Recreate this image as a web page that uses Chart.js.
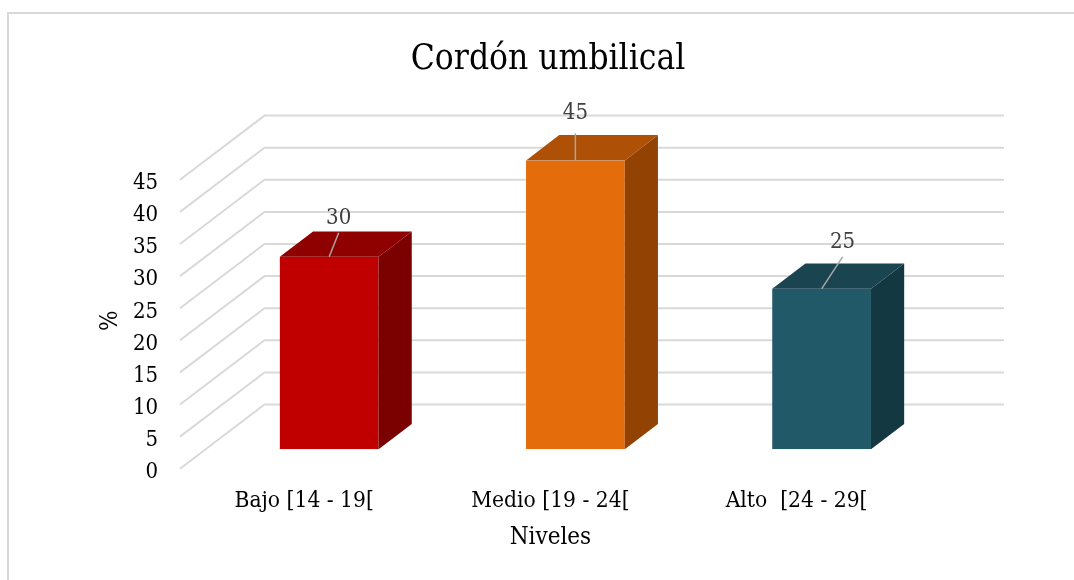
<!DOCTYPE html>
<html>
<head>
<meta charset="utf-8">
<style>
html,body{margin:0;padding:0;background:#fff;overflow:hidden}
#wrap{position:relative;width:1074px;height:580px}
canvas{display:block}
</style>
<script src="https://cdn.jsdelivr.net/npm/chart.js@4/dist/chart.umd.min.js"></script>
</head>
<body>
<div id="wrap"><canvas id="c" width="1074" height="580"></canvas></div>
<script>
const categories = ['Bajo [14 - 19[', 'Medio [19 - 24[', 'Alto  [24 - 29['];
const values = [30, 45, 25];
const frontColors = ['#C00000', '#E46C0A', '#215968'];
const sideColors = ['#7B0000', '#924303', '#133841'];
const topColors = ['#8F0000', '#AE5006', '#1A4550'];
const leaderTips = [[9.5, -24], [0, -27], [21, -32]];
const labelShifts = [[9.5, -38], [0, -47], [21, -47]];

const FONT = '"DejaVu Serif Condensed", "DejaVu Serif", serif';
const DEPTH_X = 33.2, DEPTH_Y = 25.3;
const WALL_X = 84.5, WALL_Y = 44.8, FRONT_Y = 19.4;
const WALL_END = 1004;

const scene = {
  id: 'scene',
  afterLayout(chart) {
    const tb = chart.titleBlock;
    tb.left = 22; tb.right = 1074;
    shiftTitle(chart.scales.x, -25, 0);
    shiftTitle(chart.scales.y, 0, 16);
  },
  beforeDraw(chart) {
    const c = chart.ctx;
    c.save();
    c.strokeStyle = '#D9D9D9';
    c.lineWidth = 2;
    c.beginPath();
    c.moveTo(8, 580); c.lineTo(8, 13); c.lineTo(1074, 13);
    c.stroke();
    c.restore();
  },
  beforeDatasetsDraw(chart) {
    const c = chart.ctx, y = chart.scales.y;
    c.save();
    c.strokeStyle = '#D9D9D9';
    c.lineWidth = 2;
    y.ticks.forEach(t => {
      const p = y.getPixelForValue(t.value);
      const backY = p - WALL_Y;
      const backX = 180 + WALL_X;
      c.beginPath();
      c.moveTo(180, p + FRONT_Y);
      c.lineTo(backX, backY);
      c.lineTo(WALL_END, backY);
      c.stroke();
    });
    c.restore();
  },
  afterDatasetsDraw(chart) {
    const c = chart.ctx;
    const bars = chart.getDatasetMeta(0).data;
    c.save();
    bars.forEach((b, i) => {
      const l = b.x - b.width / 2, r = b.x + b.width / 2, t = b.y, bt = b.base;
      c.fillStyle = sideColors[i];
      c.beginPath();
      c.moveTo(r, t); c.lineTo(r + DEPTH_X, t - DEPTH_Y);
      c.lineTo(r + DEPTH_X, bt - DEPTH_Y); c.lineTo(r, bt);
      c.closePath(); c.fill();
      c.fillStyle = topColors[i];
      c.beginPath();
      c.moveTo(l, t); c.lineTo(l + DEPTH_X, t - DEPTH_Y);
      c.lineTo(r + DEPTH_X, t - DEPTH_Y); c.lineTo(r, t);
      c.closePath(); c.fill();

      c.strokeStyle = '#A6A6A6';
      c.lineWidth = 1.5;
      c.beginPath();
      c.moveTo(b.x, t);
      c.lineTo(b.x + leaderTips[i][0], t + leaderTips[i][1]);
      c.stroke();

      c.fillStyle = '#404040';
      c.font = '22px ' + FONT;
      c.textAlign = 'center';
      c.textBaseline = 'middle';
      c.fillText(String(values[i]), b.x + labelShifts[i][0], t + labelShifts[i][1]);
    });
    c.restore();
  }
};

function shiftTitle(scale, dx, dy) {
  const draw = Object.getPrototypeOf(scale).drawTitle;
  scale.drawTitle = function () {
    const saved = [this.left, this.right, this.top, this.bottom];
    this.left += dx; this.right += dx; this.top += dy; this.bottom += dy;
    draw.call(this);
    [this.left, this.right, this.top, this.bottom] = saved;
  };
}

new Chart(document.getElementById('c'), {
  type: 'bar',
  data: {
    labels: categories,
    datasets: [{
      data: values,
      backgroundColor: frontColors,
      borderWidth: 0,
      barPercentage: 0.401,
      categoryPercentage: 1
    }]
  },
  options: {
    responsive: false,
    animation: false,
    layout: { padding: { left: 0, right: 129.3, top: 0, bottom: 0 } },
    plugins: {
      legend: { display: false },
      tooltip: { enabled: false },
      title: {
        display: true,
        text: 'Cordón umbilical',
        color: '#000000',
        font: { family: FONT, size: 35, weight: 'normal', lineHeight: 1.2 },
        padding: { top: 39, bottom: 79.4 }
      }
    },
    scales: {
      x: {
        afterFit(s) { s.height = 130.7; },
        grid: { display: false, drawTicks: false },
        border: { display: false },
        ticks: {
          color: '#000000',
          font: { family: FONT, size: 22.6 },
          padding: 38,
          labelOffset: -25,
          maxRotation: 0,
          autoSkip: false
        },
        title: {
          display: true,
          text: 'Niveles',
          color: '#000000',
          font: { family: FONT, size: 24 },
          padding: { top: 0, bottom: 28 }
        }
      },
      y: {
        min: 0,
        max: 45,
        afterFit(s) { s.width = 206.1; },
        grid: { display: false, drawTicks: false },
        border: { display: false },
        ticks: {
          stepSize: 5,
          color: '#000000',
          font: { family: FONT, size: 22 },
          padding: 48,
          labelOffset: 23
        },
        title: {
          display: true,
          text: '%',
          color: '#000000',
          font: { family: FONT, size: 24 },
          padding: { top: 96, bottom: 0 }
        }
      }
    }
  },
  plugins: [scene]
});
</script>
</body>
</html>
